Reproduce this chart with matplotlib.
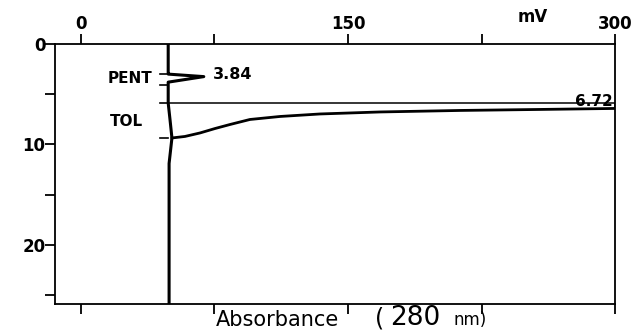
import numpy as np
import matplotlib.pyplot as plt

# detector response (mV) vs time (min)
base_mv = [49, 49, 49, 69, 49, 49, 50, 51.1, 49.5, 49.5]
base_t = [0, 2.9, 3.0, 3.25, 3.8, 5.88, 7.5, 9.36, 11.9, 26]

tol_rise_mv = [49, 300, 300]
tol_rise_t = [5.88, 5.88, 6.42]

tail_mv = [51.1, 58.4, 66.9, 75.3, 83.7, 94.9, 111.8, 134.3, 168.0, 212.9, 257.9, 300]
tail_t = [9.36, 9.21, 8.86, 8.42, 8.02, 7.52, 7.22, 6.97, 6.77, 6.62, 6.52, 6.42]

marks_t = [3.0, 4.05, 5.88, 9.36]

x_ticks = [0, 75, 150, 225, 300]
x_labels = ['0', '', '150', '', '300']
y_ticks = [0, 5, 10, 15, 20, 25]
y_labels = ['0', '', '10', '', '20', '']

fig = plt.figure(figsize=(6.43, 3.32), dpi=100)
ax = fig.add_axes([0.0855, 0.0843, 0.871, 0.7832])

ax.plot(base_mv, base_t, color='black', lw=2.2, solid_joinstyle='round')
ax.plot(tol_rise_mv, tol_rise_t, color='black', lw=1.1)
ax.plot(tail_mv, tail_t, color='black', lw=2.0, solid_joinstyle='round')
for t in marks_t:
    ax.plot([44.5, 49], [t, t], color='black', lw=1.2)

ax.set_xlim(-14.6, 300)
ax.set_ylim(25.9, 0)

ax.xaxis.set_ticks_position('both')
ax.tick_params(axis='x', which='both', top=True, bottom=True,
               labeltop=True, labelbottom=False, direction='out',
               length=7, width=1.3, labelsize=12, pad=1)
ax.set_xticks(x_ticks)
ax.set_xticklabels(x_labels)
ax.set_yticks(y_ticks)
ax.set_yticklabels(y_labels)
ax.tick_params(axis='y', direction='out', length=7, width=1.3,
               labelsize=12, pad=0)
for lab in ax.get_xticklabels() + ax.get_yticklabels():
    lab.set_fontweight('bold')

for s in ax.spines.values():
    s.set_linewidth(1.3)

ax.text(40, 3.4, 'PENT', fontsize=11, fontweight='bold', ha='right', va='center')
ax.text(35, 7.7, 'TOL', fontsize=11, fontweight='bold', ha='right', va='center')
ax.text(74, 3.0, '3.84', fontsize=11.5, fontweight='bold', ha='left', va='center')
ax.text(299, 5.75, '6.72', fontsize=11, fontweight='bold', ha='right', va='center')
ax.text(254, -2.7, 'mV', fontsize=12, fontweight='bold', ha='center', va='center')

fig.text(0.431, 0.036, 'Absorbance', fontsize=15, ha='center', va='center')
fig.text(0.583, 0.042, '(', fontsize=17, ha='left', va='center')
fig.text(0.606, 0.042, '280', fontsize=19, ha='left', va='center')
fig.text(0.705, 0.036, 'nm)', fontsize=12, ha='left', va='center')

fig.savefig('out.png', dpi=100)
